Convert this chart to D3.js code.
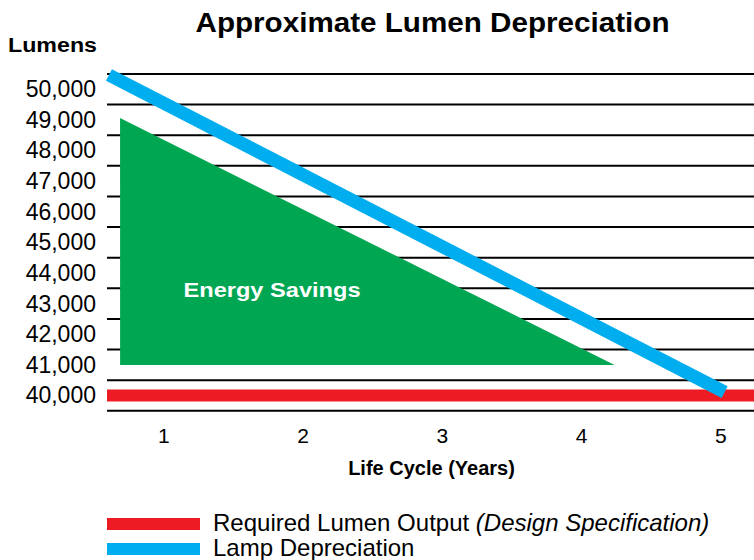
<!DOCTYPE html>
<html>
<head>
<meta charset="utf-8">
<script src="https://cdn.jsdelivr.net/npm/d3@7"></script>
<style>
    body { margin: 0; background: #fff; }
    svg { display: block; font-family: "Liberation Sans", Arial, sans-serif; }
</style>
</head>
<body>
<div id="chart"></div>
<script>
// chart values
const yearTicks = [1, 2, 3, 4, 5];
const lumenTicks = [40000, 41000, 42000, 43000, 44000, 45000, 46000, 47000, 48000, 49000, 50000];
const gridLevels = [39500, 40500, 41500, 42500, 43500, 44500, 45500, 46500, 47500, 48500, 49500, 50500];
const requiredOutput = [{year: 0.596, lumens: 40000}, {year: 5.241, lumens: 40000}];
const lampDepreciation = [{year: 0.61, lumens: 50470}, {year: 5.03, lumens: 40110}];
const energySavings = [{year: 0.69, lumens: 49060}, {year: 0.69, lumens: 41000}, {year: 4.24, lumens: 41000}];
const legendItems = ["Required Lumen Output", "Lamp Depreciation"];

(function() {
    const width = 754, height = 560;
    const red = "#ed1c24", blue = "#00aeef", green = "#00a651";

    const svg = d3.select("#chart")
        .append("svg")
        .attr("width", width)
        .attr("height", height);

    const x = d3.scaleLinear().domain([0.596, 5.241]).range([107, 754]);
    const y = d3.scaleLinear().domain([40000, 50000]).range([395.5, 89.3]);

    // grid lines
    svg.append("g")
        .selectAll("line")
        .data(gridLevels)
        .join("line")
        .attr("x1", x.range()[0])
        .attr("x2", x.range()[1])
        .attr("y1", d => y(d))
        .attr("y2", d => y(d))
        .attr("stroke", "#000")
        .attr("stroke-width", 2);

    const line = d3.line().x(d => x(d.year)).y(d => y(d.lumens));

    // energy savings triangle
    svg.append("path")
        .datum(energySavings)
        .attr("d", d => line(d) + "Z")
        .attr("fill", green);

    svg.append("text")
        .attr("x", 272)
        .attr("y", 297)
        .attr("text-anchor", "middle")
        .attr("fill", "#fff")
        .attr("font-weight", "bold")
        .attr("font-size", 21)
        .attr("textLength", 177)
        .attr("lengthAdjust", "spacingAndGlyphs")
        .text("Energy Savings");

    svg.append("path")
        .datum(requiredOutput)
        .attr("d", line)
        .attr("fill", "none")
        .attr("stroke", red)
        .attr("stroke-width", 12);

    svg.append("path")
        .datum(lampDepreciation)
        .attr("d", line)
        .attr("fill", "none")
        .attr("stroke", blue)
        .attr("stroke-width", 13);

    // axes
    const yAxis = svg.append("g")
        .attr("transform", "translate(107,0)")
        .call(d3.axisLeft(y).tickValues(lumenTicks).tickFormat(d3.format(",")).tickSize(0).tickPadding(11));
    yAxis.select(".domain").remove();
    yAxis.selectAll("text")
        .attr("font-size", 23)
        .attr("font-family", "Liberation Sans, Arial, sans-serif")
        .attr("fill", "#000");

    const xAxis = svg.append("g")
        .attr("transform", "translate(0,411)")
        .call(d3.axisBottom(x).tickValues(yearTicks).tickFormat(d3.format("d")).tickSize(0).tickPadding(17));
    xAxis.select(".domain").remove();
    xAxis.selectAll("text")
        .attr("font-size", 21)
        .attr("font-family", "Liberation Sans, Arial, sans-serif")
        .attr("fill", "#000");

    // titles
    svg.append("text")
        .attr("x", 432.5)
        .attr("y", 32)
        .attr("text-anchor", "middle")
        .attr("font-weight", "bold")
        .attr("font-size", 27)
        .attr("textLength", 474)
        .attr("lengthAdjust", "spacingAndGlyphs")
        .text("Approximate Lumen Depreciation");

    svg.append("text")
        .attr("x", 8)
        .attr("y", 52)
        .attr("font-weight", "bold")
        .attr("font-size", 20)
        .attr("textLength", 89)
        .attr("lengthAdjust", "spacingAndGlyphs")
        .text("Lumens");

    svg.append("text")
        .attr("x", 431.5)
        .attr("y", 475)
        .attr("text-anchor", "middle")
        .attr("font-weight", "bold")
        .attr("font-size", 20)
        .text("Life Cycle (Years)");

    // legend
    const legend = svg.append("g");
    const legendColors = [red, blue];
    legend.selectAll("rect")
        .data(legendItems)
        .join("rect")
        .attr("x", 107)
        .attr("y", (d, i) => 518 + i * 25)
        .attr("width", 93)
        .attr("height", 12)
        .attr("fill", (d, i) => legendColors[i]);

    const labels = legend.selectAll("text")
        .data(legendItems)
        .join("text")
        .attr("x", 213)
        .attr("y", (d, i) => 531 + i * 25)
        .attr("font-size", 24)
        .text(d => d);

    labels.filter((d, i) => i === 0)
        .append("tspan")
        .attr("font-style", "italic")
        .text(" (Design Specification)");
})();
</script>
</body>
</html>
